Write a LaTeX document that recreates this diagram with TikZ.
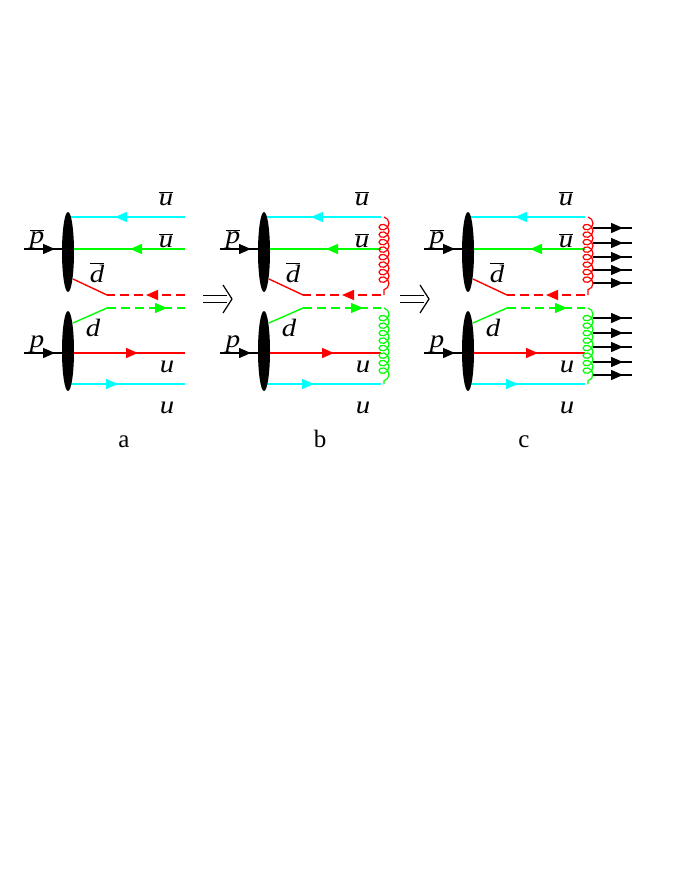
\documentclass[tikz,border=0pt]{standalone}
\usepackage{fontspec}
\setmainfont{Liberation Serif}
\usetikzlibrary{arrows.meta,decorations.pathmorphing,decorations.markings}

\definecolor{qcyan}{RGB}{0,255,255}
\definecolor{qgreen}{RGB}{0,255,0}
\definecolor{qred}{RGB}{255,0,0}

\newcommand{\qlab}[1]{\scalebox{1.15}[1]{\textit{#1}}}
\newcommand{\barq}[1]{$\overline{\mbox{\qlab{#1}}}$}

\begin{document}
\begin{tikzpicture}[x=1pt,y=-1pt,
    font=\fontsize{25}{27}\selectfont,
    quark/.style={line width=1.4pt},
    lbl/.style={anchor=base,inner sep=0pt},
    arr/.style={postaction={decorate},decoration={markings,
        mark=at position #1 with {\arrow{Triangle[length=12pt,width=10pt]}}}},
    gluon/.style={line width=1.2pt,decorate,
        decoration={coil,amplitude=5pt,segment length=7.5pt,aspect=0.9}}]

    \useasboundingbox (0,0) rectangle (680,880);

    % The three stages, shifted along x
    \foreach \sx/\lab in {68/a,264/b,468/c}{
    \begin{scope}[shift={(\sx,0)}]
        % Incoming antiproton and proton
        \draw[quark,arr=31pt] (-44,249) -- (0,249);
        \draw[quark,arr=31pt] (-44,353) -- (0,353);

        % Antiquarks (upper hadron)
        \draw[quark,qcyan,arr=70pt] (117,217) -- (0,217);
        \draw[quark,qgreen,arr=55pt] (117,249) -- (0,249);
        \draw[quark,qred] (5,279) -- (39,295);
        \draw[quark,qred,dash pattern=on 9pt off 5pt,arr=39pt] (117,295) -- (39,295);

        % Quarks (lower hadron)
        \draw[quark,qgreen] (5,323) -- (39,308);
        \draw[quark,qgreen,dash pattern=on 9pt off 5pt,arr=60pt] (39,308) -- (117,308);
        \draw[quark,qred,arr=70pt] (0,353) -- (117,353);
        \draw[quark,qcyan,arr=50pt] (0,384) -- (117,384);

        % Hadron blobs
        \fill (0,252) ellipse [x radius=6, y radius=40];
        \fill (0,351) ellipse [x radius=6, y radius=40];

        % Labels
        \node[lbl] (pbar-\lab) at (-31,243) {\barq{p}};
        \node[lbl] (p-\lab) at (-31,347) {\qlab{p}};
        \node[lbl] (ubar1-\lab) at (98,205) {\barq{u}};
        \node[lbl] (ubar2-\lab) at (98,247) {\barq{u}};
        \node[lbl] (dbar-\lab) at (29,282) {\barq{d}};
        \node[lbl] (d-\lab) at (25,336) {\qlab{d}};
        \node[lbl] (u1-\lab) at (99,372) {\qlab{u}};
        \node[lbl] (u2-\lab) at (99,413) {\qlab{u}};
        \node[lbl] (name-\lab) at (56,447) {\lab};
    \end{scope}
    }

    % Steps between the stages
    \foreach \sx in {0,197}{
        \draw[line width=1.2pt] (\sx+203,295.7) -- (\sx+227,295.7);
        \draw[line width=1.2pt] (\sx+203,302.3) -- (\sx+227,302.3);
        \draw[line width=1.2pt] (\sx+223,285) -- (\sx+232,299) -- (\sx+223,313);
    }

    % Colour strings (b and c)
    \foreach \sx in {264,468}{
        \draw[gluon,qred] (\sx+120,217) -- (\sx+120,295);
        \draw[gluon,qgreen] (\sx+120,308) -- (\sx+120,384);
    }

    % Outgoing hadrons (c)
    \foreach \y in {228,243,257,270,283,318,333,347,362,375}
        \draw[quark,arr=30pt] (593,\y) -- (632,\y);
\end{tikzpicture}
\end{document}
